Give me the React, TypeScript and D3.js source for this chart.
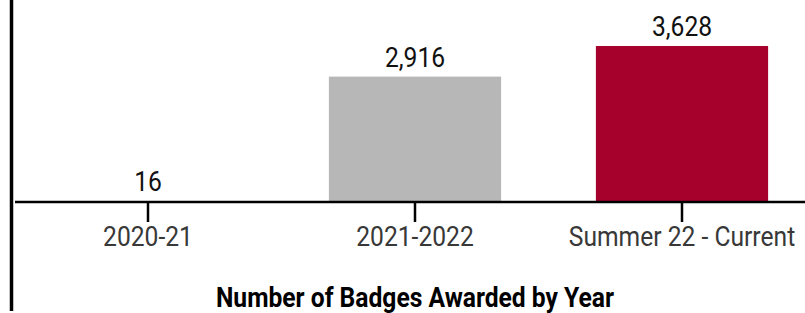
import React, { useEffect, useRef } from "react";
import * as d3 from "d3";

const categories = ["2020-21", "2021-2022", "Summer 22 - Current"];
const badges = [16, 2916, 3628];
const barColors = ["#b7b7b7", "#b7b7b7", "#a6002c"];
const title = "Number of Badges Awarded by Year";

const App = () => {
  const ref = useRef<SVGSVGElement>(null);

  useEffect(() => {
    const width = 805;
    const height = 313;
    const baseline = 202;
    const squeeze = 0.88; // fake a condensed face
    const fontSize = 28;

    const svg = d3.select(ref.current);
    svg.selectAll("*").remove();
    svg.attr("width", width).attr("height", height);

    const x = d3
      .scaleBand()
      .domain(categories)
      .range([14.5, 815.5])
      .paddingInner(0.355)
      .paddingOuter(0.1775);

    const y = d3.scaleLinear().domain([0, 4000]).range([baseline, 30]);

    const data = categories.map((c, i) => ({ cat: c, value: badges[i], color: barColors[i] }));

    // bars
    svg
      .append("g")
      .selectAll("rect")
      .data(data)
      .join("rect")
      .attr("x", (d) => x(d.cat))
      .attr("y", (d) => y(d.value))
      .attr("width", x.bandwidth())
      .attr("height", (d) => y(0) - y(d.value))
      .attr("fill", (d) => d.color);

    // value labels
    svg
      .append("g")
      .selectAll("g")
      .data(data)
      .join("g")
      .attr("transform", (d) => `translate(${x(d.cat) + x.bandwidth() / 2},${y(d.value) - 10}) scale(${squeeze},1)`)
      .append("text")
      .attr("text-anchor", "middle")
      .attr("font-family", "Roboto, sans-serif")
      .attr("font-size", fontSize)
      .attr("fill", "#111")
      .text((d) => d3.format(",")(d.value));

    // x axis
    const axis = svg.append("g").attr("transform", `translate(0,${baseline})`);
    axis
      .append("line")
      .attr("x1", 15)
      .attr("x2", width)
      .attr("stroke", "#000")
      .attr("stroke-width", 2.5);
    const ticks = axis
      .selectAll("g.tick")
      .data(categories)
      .join("g")
      .attr("class", "tick")
      .attr("transform", (d) => `translate(${x(d) + x.bandwidth() / 2},0)`);
    ticks
      .append("line")
      .attr("y1", 0)
      .attr("y2", 20)
      .attr("stroke", "#000")
      .attr("stroke-width", 2.5);
    ticks
      .append("text")
      .attr("transform", `translate(0,44) scale(${squeeze},1)`)
      .attr("text-anchor", "middle")
      .attr("font-family", "Roboto, sans-serif")
      .attr("font-size", fontSize)
      .attr("fill", "#383838")
      .text((d) => d);

    // left border line
    svg
      .append("line")
      .attr("x1", 11.5)
      .attr("x2", 11.5)
      .attr("y1", 0)
      .attr("y2", 311)
      .attr("stroke", "#000")
      .attr("stroke-width", 3.5);

    // title
    svg
      .append("text")
      .attr("transform", `translate(${x(categories[1]) + x.bandwidth() / 2},307) scale(${squeeze},1)`)
      .attr("text-anchor", "middle")
      .attr("font-family", "Roboto, sans-serif")
      .attr("font-weight", "bold")
      .attr("font-size", fontSize)
      .attr("fill", "#000")
      .text(title);
  }, []);

  return (
    <svg ref={ref} style={{ position: "absolute", left: 0, top: 0, background: "#fff" }}></svg>
  );
};

export default App;
